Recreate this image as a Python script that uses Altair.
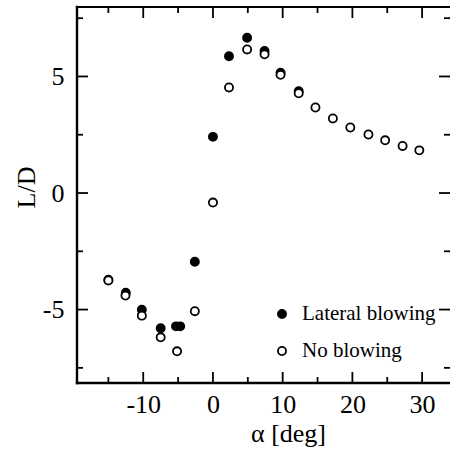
import altair as alt
import pandas as pd

# ---- data ----
lat_alpha = [-15.0, -12.5, -10.2, -7.5, -5.3, -4.7, -2.6, 0.0, 2.3, 4.9, 7.4, 9.7, 12.3]
lat_ld = [-3.72, -4.28, -5.01, -5.80, -5.72, -5.72, -2.95, 2.41, 5.87, 6.66, 6.09, 5.16, 4.37]

no_alpha = [-15.0, -12.55, -10.2, -7.5, -5.15, -2.6, 0.0, 2.3, 4.9, 7.4, 9.7, 12.3,
            14.7, 17.2, 19.7, 22.3, 24.7, 27.2, 29.6]
no_ld = [-3.75, -4.40, -5.26, -6.19, -6.79, -5.07, -0.41, 4.53, 6.16, 5.95, 5.07, 4.28,
         3.67, 3.20, 2.81, 2.51, 2.26, 2.02, 1.83]

series_names = ["Lateral blowing", "No blowing"]

x_major = [-10, 0, 10, 20, 30]
x_minor = [-15, -5, 5, 15, 25]
y_major = [-5, 0, 5]
y_minor = [-7.5, -2.5, 2.5, 7.5]

x_domain = [-19.5, 34.0]
y_domain = [-8.15, 7.98]

W, H = 373, 376
FONT = "Liberation Serif"
FS = 26

df = pd.DataFrame({
    "alpha": lat_alpha + no_alpha,
    "ld": lat_ld + no_ld,
    "series": [series_names[0]] * len(lat_alpha) + [series_names[1]] * len(no_alpha),
})

xs = alt.Scale(domain=x_domain, nice=False, zero=False)
ys = alt.Scale(domain=y_domain, nice=False, zero=False)

x_axis = alt.Axis(
    values=x_major, labelExpr="'' + datum.value", ticks=False, domain=False, grid=False,
    labelFont=FONT, labelFontSize=FS, labelColor="black", labelPadding=8,
    title="α [deg]", titleFont=FONT, titleFontSize=FS, titleFontWeight="normal",
    titleColor="black", titleX=211, titleY=58, titleAlign="center",
    titleBaseline="alphabetic")
y_axis = alt.Axis(
    values=y_major, labelExpr="'' + datum.value", ticks=False, domain=False, grid=False,
    labelFont=FONT, labelFontSize=FS, labelColor="black", labelPadding=13,
    title="L/D", titleFont=FONT, titleFontSize=FS, titleFontWeight="normal",
    titleColor="black", titleAngle=270, titleX=-43, titleY=180, titleAlign="center",
    titleBaseline="alphabetic")

points = alt.Chart(df).mark_point(
    filled=True, size=66, stroke="black", strokeWidth=1.8, opacity=1
).encode(
    x=alt.X("alpha:Q", scale=xs, axis=x_axis, title="α [deg]"),
    y=alt.Y("ld:Q", scale=ys, axis=y_axis, title="L/D"),
    fill=alt.Fill("series:N", scale=alt.Scale(domain=series_names, range=["black", "white"]),
                  legend=alt.Legend(
                      title=None, orient="none", legendX=194.5, legendY=296.5, padding=0,
                      symbolType="circle", symbolSize=66, symbolStrokeColor="black",
                      symbolStrokeWidth=1.8, labelFont=FONT, labelFontSize=21,
                      labelColor="black", labelOffset=9.5, rowPadding=15)),
)

def ticks_x(vals, length, top):
    d = pd.DataFrame({"alpha": vals})
    y1 = 0 if top else H
    y2 = length if top else H - length
    return alt.Chart(d).mark_rule(color="black", strokeWidth=1.8).encode(
        x=alt.X("alpha:Q", scale=xs, axis=x_axis, title="α [deg]"),
        y=alt.value(y1), y2=alt.value(y2))

def ticks_y(vals, length, right):
    d = pd.DataFrame({"ld": vals})
    x1 = W if right else 0
    x2 = W - length if right else length
    return alt.Chart(d).mark_rule(color="black", strokeWidth=1.8).encode(
        y=alt.Y("ld:Q", scale=ys, axis=y_axis, title="L/D"),
        x=alt.value(x1), x2=alt.value(x2))

one = pd.DataFrame({"k": [0]})
spine_left = alt.Chart(one).mark_rule(color="black", strokeWidth=2.4, strokeCap="square").encode(
    x=alt.value(0), y=alt.value(0), y2=alt.value(H))
spine_bottom = alt.Chart(one).mark_rule(color="black", strokeWidth=2.4, strokeCap="square").encode(
    x=alt.value(0), x2=alt.value(W), y=alt.value(H))
spine_top = alt.Chart(one).mark_rule(color="black", strokeWidth=2.2, strokeCap="square").encode(
    x=alt.value(0), x2=alt.value(W + 2), y=alt.value(0))

chart = alt.layer(
    points,
    spine_left, spine_bottom, spine_top,
    ticks_x(x_major, 11, False), ticks_x(x_minor, 6, False),
    ticks_x(x_major, 11, True), ticks_x(x_minor, 6, True),
    ticks_y(y_major, 11, False), ticks_y(y_minor, 6, False),
    ticks_y(y_major, 11, True), ticks_y(y_minor, 6, True),
).properties(
    width=W, height=H,
    autosize=alt.AutoSizeParams(type="none"),
    padding={"left": 77, "top": 7, "right": 0, "bottom": 76},
    background="white",
).configure_view(stroke=None)

chart.save("out.html", embed_options={"renderer": "svg", "actions": False})
